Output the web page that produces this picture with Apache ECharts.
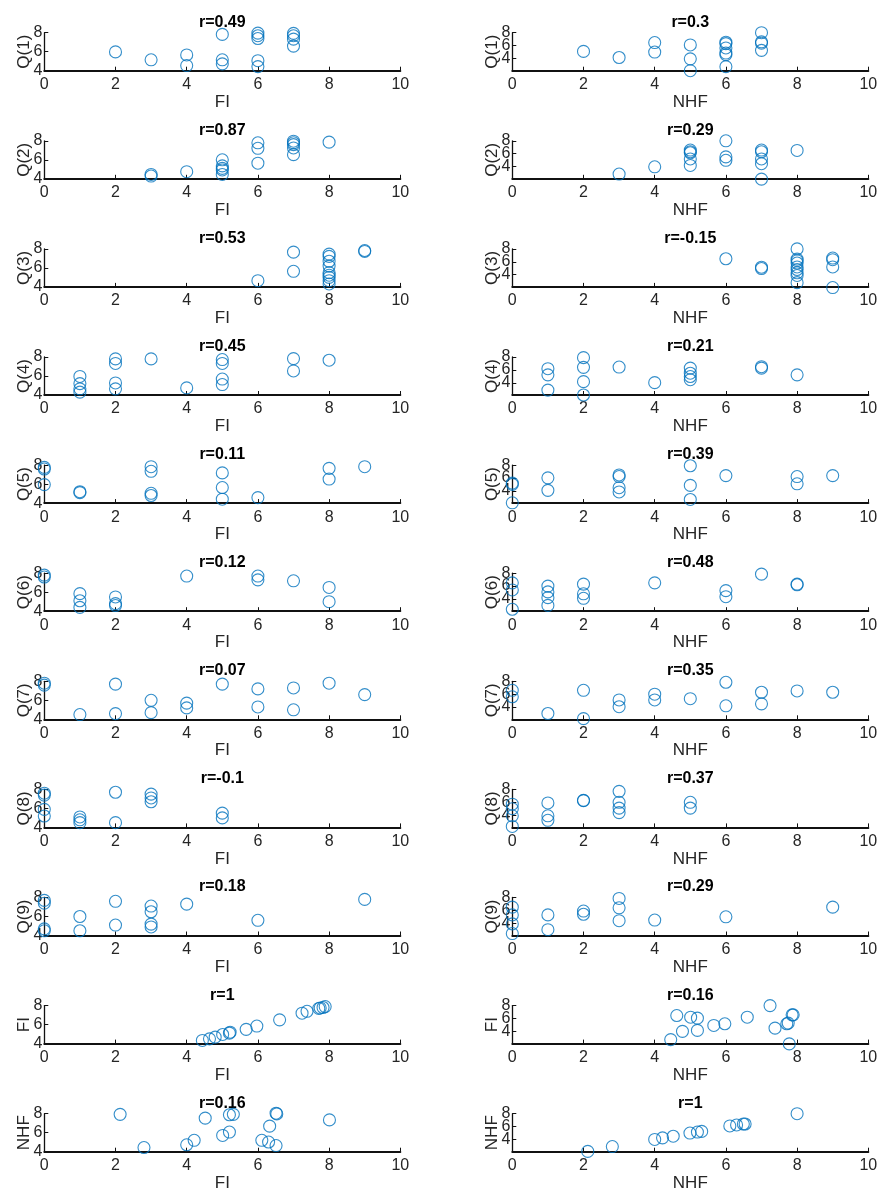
<!DOCTYPE html>
<html><head><meta charset="utf-8">
<script src="https://cdn.jsdelivr.net/npm/echarts@6/dist/echarts.min.js"></script>
<style>html,body{margin:0;padding:0;background:#fff}#c{width:878px;height:1194px}</style>
</head><body><div id="c"></div>
<script>
// ---- data: [x, y] pairs ----
const fiQ1 = [[2,5.98],[3,5.15],[4,5.66],[4,4.54],[5,7.82],[5,5.15],[5,4.72],[6,7.96],[6,7.68],[6,7.39],[6,5.05],[6,4.43],[7,7.93],[7,7.68],[7,7.32],[7,6.59]];
const nhfQ1 = [[2,5.1],[3,4.15],[4,6.47],[4,5.0],[5,6.1],[5,3.94],[5,2.1],[6,6.52],[6,6.31],[6,5.63],[6,4.84],[6,4.58],[6,2.73],[7,8.0],[7,6.58],[7,6.37],[7,5.26]];
const fiQ2 = [[3,4.46],[3,4.29],[4,4.75],[5,6.0],[5,5.36],[5,5.1],[5,4.93],[5,4.46],[6,7.79],[6,7.21],[6,5.64],[7,7.96],[7,7.79],[7,7.6],[7,7.25],[7,6.54],[8,7.86]];
const nhfQ2 = [[3,2.84],[4,3.96],[5,6.56],[5,6.3],[5,6.14],[5,5.18],[5,4.17],[6,8.0],[6,5.5],[6,4.97],[7,6.56],[7,6.3],[7,5.18],[7,4.44],[7,2.05],[8,6.5]];
const fiQ3 = [[6,4.65],[7,7.66],[7,5.64],[8,7.45],[8,7.21],[8,6.7],[8,6.19],[8,5.5],[8,5.23],[8,5.0],[8,4.65],[8,4.31],[9,7.83],[9,7.73]];
const nhfQ3 = [[6,6.47],[7,5.15],[7,4.95],[8,8.0],[8,6.42],[8,6.17],[8,5.81],[8,5.2],[8,4.8],[8,4.29],[8,3.88],[8,2.76],[9,6.58],[9,6.32],[9,5.2],[9,2.0]];
const fiQ4 = [[1,5.95],[1,5.2],[1,4.65],[1,4.3],[2,7.8],[2,7.32],[2,5.27],[2,4.65],[3,7.8],[4,4.75],[5,7.73],[5,7.32],[5,5.68],[5,5.1],[7,7.83],[7,6.53],[8,7.66]];
const nhfQ4 = [[1,6.18],[1,5.23],[1,2.86],[2,7.9],[2,6.39],[2,4.17],[2,2.1],[3,6.44],[4,4.02],[5,6.28],[5,5.48],[5,4.97],[5,4.47],[7,6.49],[7,6.28],[8,5.23]];
const fiQ5 = [[0,7.76],[0,7.59],[0,5.95],[1,5.2],[1,5.1],[3,7.83],[3,7.35],[3,5.03],[3,4.8],[5,7.18],[5,5.64],[5,4.41],[6,4.58],[8,7.66],[8,6.53],[9,7.83]];
const nhfQ5 = [[0,5.2],[0,5.0],[0,2.15],[1,6.02],[1,4.08],[3,6.47],[3,6.22],[3,4.49],[3,3.83],[5,7.9],[5,4.85],[5,2.66],[6,6.37],[8,6.22],[8,5.1],[9,6.37]];
const fiQ6 = [[0,7.8],[0,7.6],[1,5.85],[1,5.1],[1,4.4],[2,5.5],[2,4.8],[2,4.6],[4,7.7],[6,7.7],[6,7.3],[7,7.2],[8,6.5],[8,5.0]];
const nhfQ6 = [[0,6.5],[0,5.4],[0,2.4],[1,6.0],[1,5.1],[1,4.2],[1,3.0],[2,6.3],[2,4.8],[2,4.1],[4,6.5],[6,5.3],[6,4.35],[7,7.85],[8,6.3],[8,6.2]];
const fiQ7 = [[0,7.8],[0,7.6],[1,4.5],[2,7.7],[2,4.6],[3,6.0],[3,4.7],[4,5.7],[4,5.2],[5,7.7],[6,7.2],[6,5.3],[7,7.3],[7,5.0],[8,7.8],[9,6.6]];
const nhfQ7 = [[0,6.6],[0,5.6],[1,3.0],[2,6.6],[2,2.2],[3,5.1],[3,4.05],[4,6.0],[4,5.1],[5,5.3],[6,7.85],[6,4.2],[7,6.3],[7,4.5],[8,6.5],[9,6.3]];
const fiQ8 = [[0,7.6],[0,7.4],[0,5.9],[0,5.2],[1,5.1],[1,4.8],[1,4.5],[2,7.7],[2,4.5],[3,7.5],[3,7.1],[3,6.7],[5,5.5],[5,5.0]];
const nhfQ8 = [[0,5.7],[0,5.0],[0,3.9],[0,2.25],[1,5.9],[1,3.9],[1,3.2],[2,6.3],[2,6.25],[3,7.7],[3,6.0],[3,5.1],[3,4.4],[5,6.0],[5,5.1]];
const fiQ9 = [[0,7.7],[0,7.4],[0,4.7],[0,4.5],[1,6.0],[1,4.5],[2,7.6],[2,5.1],[3,7.1],[3,6.5],[3,5.2],[3,4.9],[4,7.3],[6,5.6],[9,7.8]];
const nhfQ9 = [[0,6.5],[0,5.3],[0,3.9],[0,2.4],[1,5.3],[1,3.0],[2,5.9],[2,5.4],[3,7.85],[3,6.4],[3,4.4],[4,4.5],[6,5.0],[9,6.5]];
const fiFI = [[4.44,4.33],[4.64,4.5],[4.8,4.68],[5.01,4.96],[5.2,5.1],[5.22,5.2],[5.67,5.5],[5.97,5.85],[6.61,6.5],[7.24,7.2],[7.38,7.4],[7.71,7.7],[7.75,7.75],[7.83,7.8],[7.89,7.9]];
const nhfFI = [[4.45,2.72],[4.62,6.46],[4.78,4.0],[5.01,6.2],[5.2,6.05],[5.2,4.15],[5.66,4.92],[5.97,5.18],[6.6,6.2],[7.24,8.0],[7.38,4.5],[7.71,5.18],[7.75,5.28],[7.78,2.05],[7.86,6.56],[7.89,6.56]];
const fiNHF = [[2.13,7.93],[2.8,4.44],[4.0,4.73],[4.21,5.2],[4.52,7.53],[5.01,5.71],[5.2,6.07],[5.2,7.89],[5.31,7.93],[6.11,5.2],[6.3,5.02],[6.33,6.69],[6.51,4.65],[6.51,8.05],[6.53,7.98],[8.01,7.35]];
const nhfNHF = [[2.12,2.15],[2.81,2.9],[4.0,4.0],[4.22,4.25],[4.52,4.5],[4.99,5.0],[5.2,5.15],[5.32,5.25],[6.11,6.1],[6.3,6.25],[6.49,6.4],[6.54,6.4],[8.0,8.0]];

const leftData  = [fiQ1, fiQ2, fiQ3, fiQ4, fiQ5, fiQ6, fiQ7, fiQ8, fiQ9, fiFI, fiNHF];
const rightData = [nhfQ1, nhfQ2, nhfQ3, nhfQ4, nhfQ5, nhfQ6, nhfQ7, nhfQ8, nhfQ9, nhfFI, nhfNHF];
const leftTitles  = ['r=0.49','r=0.87','r=0.53','r=0.45','r=0.11','r=0.12','r=0.07','r=-0.1','r=0.18','r=1','r=0.16'];
const rightTitles = ['r=0.3','r=0.29','r=-0.15','r=0.21','r=0.39','r=0.48','r=0.35','r=0.37','r=0.29','r=0.16','r=1'];
const yNames = ['Q(1)','Q(2)','Q(3)','Q(4)','Q(5)','Q(6)','Q(7)','Q(8)','Q(9)','FI','NHF'];
const xNames = ['FI','NHF'];
const xTicks = [0, 2, 4, 6, 8, 10];
const yTicks = [4, 6, 8];
const rightOuterLabels = [4, 8];
const rightMiddleLabels = [6];
const leftYRange = [4, 8];
const rightYRange = [2.1, 8];

// ---- layout ----
const FONT = '"Liberation Sans", Arial, Helvetica, sans-serif';
const COLX = [44.3, 512.3], W = 356, H = 38, BOTTOM0 = 70.7, PITCH = 108.1;
const TXT = '#262626', BLUE = '#0072BD';
const labelStyle = (margin) => ({fontSize: 16, color: TXT, fontFamily: FONT, margin: margin,
  showMinLabel: true, showMaxLabel: true, hideOverlap: false});

const grids = [], xAxes = [], yAxes = [], extraY = [], series = [], graphics = [];
let idx = 0;
for (let r = 0; r < 11; r++) {
  for (let c = 0; c < 2; c++) {
    const top = BOTTOM0 + r * PITCH - H;
    grids.push({left: COLX[c], top: top, width: W, height: H, outerBoundsMode: 'none', containLabel: false});
    xAxes.push({
      type: 'value', gridIndex: idx, min: xTicks[0], max: xTicks[xTicks.length - 1], interval: 2,
      name: xNames[c], nameLocation: 'middle', nameGap: 23, nameMoveOverlap: false,
      nameTextStyle: {fontSize: 17, color: TXT, fontFamily: FONT},
      axisLine: {show: true, onZero: false, lineStyle: {color: '#111', width: 2}},
      axisTick: {show: true, inside: true, length: 4, lineStyle: {color: '#111', width: 1}},
      axisLabel: labelStyle(6),
      splitLine: {show: false}
    });
    const yr = c === 0 ? leftYRange : rightYRange;
    const ya = {
      type: 'value', gridIndex: idx, min: yr[0], max: yr[1],
      name: yNames[r], nameLocation: 'middle', nameGap: 11, nameMoveOverlap: false,
      nameTextStyle: {fontSize: 17, color: TXT, fontFamily: FONT},
      axisLine: {show: true, onZero: false, lineStyle: {color: '#111', width: 1.3}},
      axisTick: {show: true, inside: true, length: 4, lineStyle: {color: '#111', width: 1}},
      axisLabel: labelStyle(2),
      splitLine: {show: false}
    };
    if (c === 0) {
      ya.interval = 2;
    } else {
      ya.axisTick.customValues = yTicks;
      ya.axisLabel.customValues = rightOuterLabels;
      // second, line-less axis on the same grid carrying the middle label (avoids overlap hiding)
      extraY.push({
        type: 'value', gridIndex: idx, min: yr[0], max: yr[1], position: 'left',
        axisLine: {show: false}, axisTick: {show: false}, splitLine: {show: false},
        axisLabel: Object.assign(labelStyle(2), {customValues: rightMiddleLabels})
      });
    }
    yAxes.push(ya);
    series.push({
      type: 'scatter', xAxisIndex: idx, yAxisIndex: idx, data: (c === 0 ? leftData : rightData)[r],
      symbol: 'circle', symbolSize: 12, clip: false, silent: true,
      itemStyle: {color: 'rgba(0,0,0,0)', borderColor: BLUE, borderWidth: 1.1},
      emphasis: {disabled: true}
    });
    graphics.push({
      type: 'text', silent: true,
      style: {text: (c === 0 ? leftTitles : rightTitles)[r], x: COLX[c] + W / 2, y: top - 10.5,
              align: 'center', verticalAlign: 'middle', fill: '#000',
              font: 'bold 16px ' + FONT}
    });
    idx++;
  }
}

const chart = echarts.init(document.getElementById('c'), null, {renderer: 'canvas'});
chart.setOption({
  animation: false,
  backgroundColor: '#fff',
  grid: grids, xAxis: xAxes, yAxis: yAxes.concat(extraY), series: series,
  graphic: graphics
});
</script></body></html>
